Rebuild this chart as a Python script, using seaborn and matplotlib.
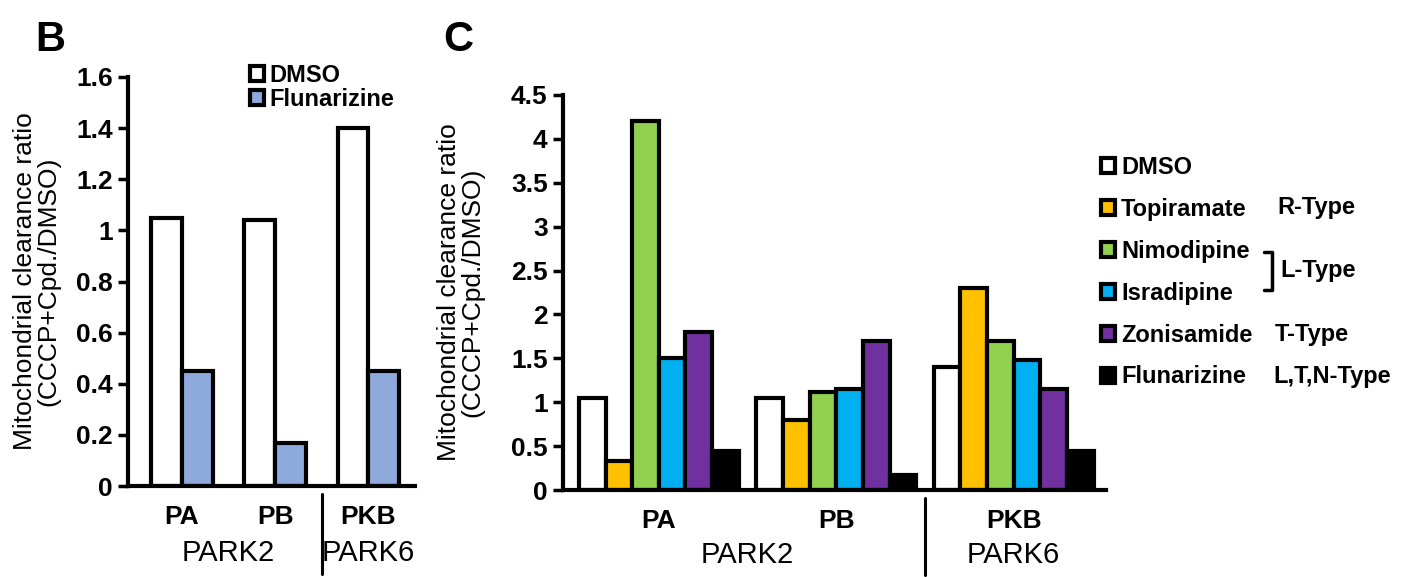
import numpy as np
import pandas as pd
import matplotlib
matplotlib.use("Agg")
import matplotlib.pyplot as plt
from matplotlib.patches import Patch
from matplotlib.lines import Line2D
import seaborn as sns

# ---- data ----
lines = ['PA', 'PB', 'PKB']

# panel B
b_compounds = ['DMSO', 'Flunarizine']
b_dmso = [1.05, 1.04, 1.40]
b_flunarizine = [0.45, 0.17, 0.45]
b_colors = ['#FFFFFF', '#8EA9DB']

# panel C
c_compounds = ['DMSO', 'Topiramate', 'Nimodipine', 'Isradipine', 'Zonisamide', 'Flunarizine']
c_dmso = [1.05, 1.05, 1.40]
c_topiramate = [0.33, 0.80, 2.30]
c_nimodipine = [4.20, 1.12, 1.70]
c_isradipine = [1.50, 1.15, 1.48]
c_zonisamide = [1.80, 1.70, 1.15]
c_flunarizine = [0.45, 0.17, 0.45]
c_colors = ['#FFFFFF', '#FFC000', '#92D050', '#00B0F0', '#7030A0', '#000000']

b_ticks = [0, 0.2, 0.4, 0.6, 0.8, 1, 1.2, 1.4, 1.6]
c_ticks = [0, 0.5, 1, 1.5, 2, 2.5, 3, 3.5, 4, 4.5]


def long_form(compounds, series):
    rows = []
    for comp, vals in zip(compounds, series):
        for ln, v in zip(lines, vals):
            rows.append({'line': ln, 'compound': comp, 'ratio': v})
    return pd.DataFrame(rows)


df_b = long_form(b_compounds, [b_dmso, b_flunarizine])
df_c = long_form(c_compounds, [c_dmso, c_topiramate, c_nimodipine,
                               c_isradipine, c_zonisamide, c_flunarizine])

sns.set_theme(style="white")
plt.rcParams['font.family'] = ['Liberation Sans', 'DejaVu Sans']
plt.rcParams['text.color'] = 'black'
plt.rcParams['axes.labelcolor'] = 'black'
plt.rcParams['xtick.color'] = 'black'
plt.rcParams['ytick.color'] = 'black'

fig = plt.figure(figsize=(14.23, 5.77), dpi=100)
W, H = 1423, 577


def px_axes(x0, x1, ytop, ybot):
    return fig.add_axes([x0 / W, 1 - ybot / H, (x1 - x0) / W, (ybot - ytop) / H])


def style_axis(ax, ticks, ylim, xlim, labelpad):
    ax.set_ylim(*ylim)
    ax.set_xlim(*xlim)
    ax.set_yticks(ticks)
    ax.set_yticklabels(['{:g}'.format(t) for t in ticks], fontsize=19, fontweight='bold')
    ax.set_xticks(range(len(lines)))
    ax.set_xticklabels(lines, fontsize=19, fontweight='bold')
    ax.tick_params(axis='x', length=0, pad=14)
    ax.tick_params(axis='y', direction='out', length=7, width=2.5, pad=4, left=True)
    for s in ['top', 'right']:
        ax.spines[s].set_visible(False)
    for s in ['left', 'bottom']:
        ax.spines[s].set_linewidth(3)
        ax.spines[s].set_color('black')
    ax.set_xlabel('')
    ax.set_ylabel('Mitochondrial clearance ratio\n(CCCP+Cpd./DMSO)', fontsize=19,
                  labelpad=labelpad, linespacing=1.0)
    trans = ax.get_xaxis_transform()
    ax.plot([1.5, 1.5], [-0.02, -0.215], color='black', lw=2.2, transform=trans, clip_on=False)
    ax.text(0.5, -0.165, 'PARK2', fontsize=21, ha='center', va='center', transform=trans)
    ax.text(2.0, -0.165, 'PARK6', fontsize=21, ha='center', va='center', transform=trans)


# ---- panel B ----
axb = px_axes(128, 415, 77, 486)
sns.barplot(data=df_b, x='line', y='ratio', hue='compound', order=lines,
            hue_order=b_compounds, palette=b_colors, saturation=1, width=0.66,
            edgecolor='black', linewidth=3, errorbar=None, legend=False, ax=axb)
style_axis(axb, b_ticks, (0, 1.6), (-0.58, 2.5), 11)

hb = [Patch(facecolor=c, edgecolor='black', linewidth=3) for c in b_colors]
axb.legend(hb, b_compounds, loc='upper left', bbox_to_anchor=(250 / W, 1 - 64 / H),
           bbox_transform=fig.transFigure, frameon=False, borderpad=0, borderaxespad=0,
           handlelength=0.6, handleheight=0.6, handletextpad=0.2, labelspacing=0.05,
           prop={'size': 17, 'weight': 'bold'})

# ---- panel C ----
axc = px_axes(563, 1106, 95, 490)
sns.barplot(data=df_c, x='line', y='ratio', hue='compound', order=lines,
            hue_order=c_compounds, palette=c_colors, saturation=1, width=0.9,
            edgecolor='black', linewidth=3, errorbar=None, legend=False, ax=axc)
style_axis(axc, c_ticks, (0, 4.5), (-0.54, 2.52), 19)

hc = [Patch(facecolor=c, edgecolor='black', linewidth=3) for c in c_colors]
fig.legend(hc, c_compounds, loc='upper left', bbox_to_anchor=(1101 / W, 1 - 156 / H),
           frameon=False, borderpad=0, borderaxespad=0, handlelength=0.6,
           handleheight=0.6, handletextpad=0.25, labelspacing=0.80,
           prop={'size': 17, 'weight': 'bold'})

type_pos = {'R-Type': (1277, 207), 'L-Type': (1280, 270), 'T-Type': (1275, 334),
            'L,T,N-Type': (1273, 377)}
for lab, (x, y) in type_pos.items():
    fig.text(x / W, 1 - y / H, lab, fontsize=17, fontweight='bold', va='center', ha='left')
bx = [1264, 1272, 1272, 1264]
by = [252, 252, 290, 290]
fig.add_artist(Line2D([v / W for v in bx], [1 - v / H for v in by], color='black', lw=2.5))

fig.text(50 / W, 1 - 40 / H, 'B', fontsize=30, fontweight='bold', ha='center', va='center')
fig.text(458 / W, 1 - 40 / H, 'C', fontsize=30, fontweight='bold', ha='center', va='center')

fig.savefig('out.png', dpi=100)
